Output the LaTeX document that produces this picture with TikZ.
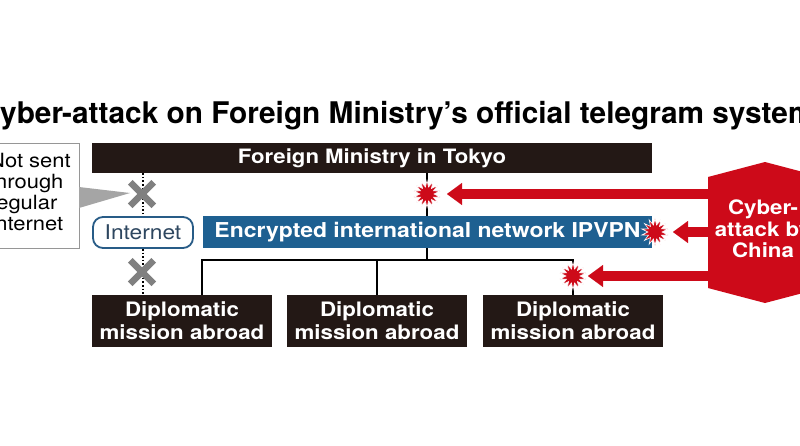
\documentclass[tikz,border=0pt]{standalone}
\usepackage{fontspec}
\setmainfont{TeX Gyre Heros}
\newfontfamily\hw[FakeStretch=1.12]{TeX Gyre Heros}
\usetikzlibrary{shapes.geometric,shapes.misc,arrows.meta}
\definecolor{boxblack}{RGB}{35,24,21}
\definecolor{netblue}{RGB}{30,96,145}
\definecolor{inetblue}{RGB}{40,92,135}
\definecolor{inettext}{RGB}{45,70,95}
\definecolor{atkred}{RGB}{205,10,25}
\definecolor{xgray}{RGB}{128,128,128}
\definecolor{callgray}{RGB}{165,165,165}
\definecolor{callborder}{RGB}{150,150,150}
\begin{document}
\begin{tikzpicture}[x=1pt,y=-1pt,
  blackbox/.style={fill=boxblack, text=white, inner sep=0pt, align=center,
    font=\hw\bfseries\fontsize{19.9}{23}\selectfont},
  bluebox/.style={fill=netblue, text=white, inner sep=0pt,
    font=\hw\bfseries\fontsize{20.5}{23}\selectfont},
  inetbox/.style={draw=inetblue, line width=1.8pt, rounded corners=10pt, fill=white,
    text=inettext, inner sep=0pt, font=\hw\fontsize{20.3}{23}\selectfont},
  wire/.style={draw=black, line width=1.5pt},
  dotline/.style={draw=black, line width=1.6pt, dash pattern=on 1.6pt off 2pt},
  xmark/.style={cross out, draw=xgray, line width=6.5pt, minimum size=17pt, inner sep=0pt},
  burst/.style={star, star points=14, star point ratio=1.9, minimum size=27pt,
    inner sep=0pt, fill=atkred, draw=white, line width=0.6pt},
  atk/.style={draw=atkred, line width=10pt,
    -{Triangle[width=22pt,length=15pt,line width=0.1pt]}, atkred},
]
\clip (0,0) rectangle (800,445);
\fill[white] (0,0) rectangle (800,445);

% title
\node[anchor=base west, inner sep=0pt, font=\bfseries\fontsize{29.8}{32}\selectfont,
  text=black] (title) at (-21.5,123) {Cyber-attack on Foreign Ministry’s official telegram system};

% callout
\node[draw=callborder, line width=1pt, fill=white, minimum width=90pt, minimum height=105pt,
  inner sep=0pt] (call) at (34,195.5) {};
\node[anchor=west, inner sep=0pt, align=left, font=\hw\fontsize{19.6}{21}\selectfont]
  (calltext) at (-11,192) {Not sent\\through\\regular\\Internet};

% boxes
\node[blackbox, minimum width=560pt, minimum height=30pt,
  font=\hw\bfseries\fontsize{19.8}{23}\selectfont] (fm) at (372,158) {Foreign Ministry in Tokyo};
\node[inetbox, minimum width=100pt, minimum height=31pt] (inet) at (143,232.5) {Internet};
\node[bluebox, minimum width=449pt, minimum height=32pt] (enc) at (427.5,232) {Encrypted international network IPVPN};
\node[blackbox, minimum width=180pt, minimum height=52pt] (dip1) at (182,321) {Diplomatic\\mission abroad};
\node[blackbox, minimum width=180pt, minimum height=52pt] (dip2) at (377,321) {Diplomatic\\mission abroad};
\node[blackbox, minimum width=180pt, minimum height=52pt] (dip3) at (573,321) {Diplomatic\\mission abroad};

% pointer of callout
\coordinate (pt1) at (79,187);
\coordinate (pt2) at (79,208);
\coordinate (ptip) at (130,193);
\fill[callgray] (pt1) -- (ptip) -- (pt2) -- cycle;

% dotted internet path
\draw[dotline] (fm.south -| inet) -- (inet.north);
\draw[dotline] (inet.south) -- (dip1.north -| inet);
\node[xmark] (x1) at (142,194) {};
\node[xmark] (x2) at (142,272) {};

% wiring
\coordinate (busL) at (202,260);
\coordinate (busR) at (573,260);
\coordinate (cx) at (427,260);
\draw[wire] (fm.south -| cx) -- (enc.north -| cx);
\draw[wire] (enc.south -| cx) -- (cx);
\draw[wire] (dip1.north -| busL) -- (busL) -- (busR) -- (dip3.north);
\draw[wire] (dip2.north) -- (dip2.north |- busL);

% bursts
\node[burst] (b1) at (427,194) {};
\node[burst] (b2) at (655,232) {};
\node[burst] (b3) at (573,276) {};

% hexagon
\coordinate (hA) at (708,177);
\coordinate (hB) at (765,162);
\coordinate (hC) at (822,177);
\coordinate (hD) at (822,288);
\coordinate (hE) at (765,303);
\coordinate (hF) at (708,288);
\fill[atkred] (hA) -- (hB) -- (hC) -- (hD) -- (hE) -- (hF) -- cycle;
\node[inner sep=0pt, align=center, text=white, font=\hw\bfseries\fontsize{19.9}{21.5}\selectfont]
  (china) at (763,229) {Cyber-\\attack by\\China};

% attack arrows
\coordinate (a1) at (712,194);
\coordinate (a2) at (712,232);
\coordinate (a3) at (712,276);
\draw[atk, shorten >=20pt] (a1) -- (b1.center);
\draw[atk, shorten >=18pt] (a2) -- (b2.center);
\draw[atk, shorten >=15pt] (a3) -- (b3.center);
\end{tikzpicture}
\end{document}
